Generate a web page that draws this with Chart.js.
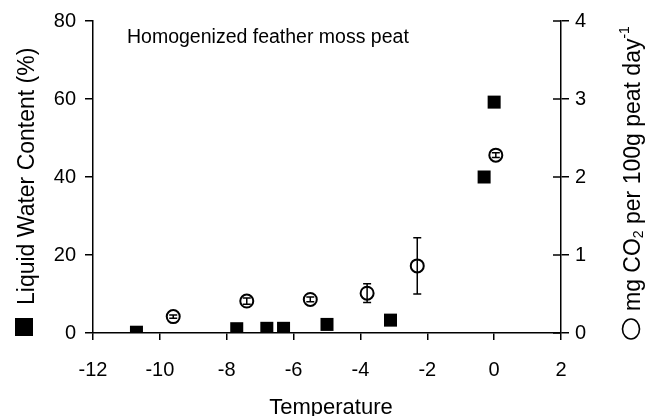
<!DOCTYPE html>
<html>
<head>
<meta charset="utf-8">
<script src="https://cdn.jsdelivr.net/npm/chart.js@4"></script>
<style>
  html, body { margin: 0; padding: 0; background: #fff; }
  canvas { display: block; }
</style>
</head>
<body>
<canvas id="chart" width="651" height="416"></canvas>
<script>
// Liquid water content (squares, left axis)
const wcTemp = [-10.7, -7.7, -6.8, -6.3, -5.0, -3.1, -0.3, 0.0];
const wcValue = [0.2, 1.1, 1.2, 1.2, 2.2, 3.3, 40.0, 59.2];

// CO2 production (open circles, right axis) with error bars
const co2Temp = [-9.6, -7.4, -5.5, -3.8, -2.3, 0.05];
const co2Value = [0.21, 0.41, 0.43, 0.51, 0.86, 2.28];
const co2Err = [0.02, 0.04, 0.03, 0.12, 0.36, 0.03];

// Axis ticks
const xTicks = [-12, -10, -8, -6, -4, -2, 0, 2];
const yTicks = [0, 20, 40, 60, 80];
const y2Ticks = [0, 1, 2, 3, 4];

const FONT = "'Liberation Sans', Arial, sans-serif";

// error bars + inner half of right-axis ticks
const errorBars = {
  id: 'errorBars',
  afterDatasetsDraw(chart) {
    const { ctx, scales: { x, y2 }, chartArea } = chart;
    ctx.save();
    ctx.strokeStyle = '#000';
    ctx.lineWidth = 1.5;
    co2Temp.forEach((t, i) => {
      const px = x.getPixelForValue(t);
      const top = y2.getPixelForValue(co2Value[i] + co2Err[i]);
      const bot = y2.getPixelForValue(co2Value[i] - co2Err[i]);
      ctx.beginPath();
      ctx.moveTo(px, top); ctx.lineTo(px, bot);
      ctx.moveTo(px - 4, top); ctx.lineTo(px + 4, top);
      ctx.moveTo(px - 4, bot); ctx.lineTo(px + 4, bot);
      ctx.stroke();
    });
    y2Ticks.forEach(v => {
      const py = y2.getPixelForValue(v);
      ctx.beginPath();
      ctx.moveTo(chartArea.right - 8, py); ctx.lineTo(chartArea.right, py);
      ctx.stroke();
    });
    ctx.restore();
  }
};

// axis titles and the annotation
const labels = {
  id: 'labels',
  afterDraw(chart) {
    const { ctx } = chart;
    ctx.save();
    ctx.fillStyle = '#000';
    ctx.strokeStyle = '#000';
    ctx.textBaseline = 'alphabetic';

    // annotation
    ctx.font = '19.5px ' + FONT;
    ctx.textAlign = 'left';
    ctx.fillText('Homogenized feather moss peat', 127, 43);

    // x title
    ctx.font = '22px ' + FONT;
    ctx.textAlign = 'center';
    ctx.fillText('Temperature', 331, 414);

    // left title with filled square
    ctx.fillRect(15, 318, 18, 18);
    ctx.save();
    ctx.translate(34, 305);
    ctx.rotate(-Math.PI / 2);
    ctx.font = '23px ' + FONT;
    ctx.textAlign = 'left';
    ctx.fillText('Liquid Water Content (%)', 0, 0);
    ctx.restore();

    // right title with open circle
    ctx.lineWidth = 1.6;
    ctx.beginPath();
    ctx.ellipse(631, 329, 8.5, 10, 0, 0, Math.PI * 2);
    ctx.stroke();
    ctx.save();
    ctx.translate(640, 311);
    ctx.rotate(-Math.PI / 2);
    ctx.textAlign = 'left';
    let cx = 0;
    const part = (txt, size, dy) => {
      ctx.font = size + 'px ' + FONT;
      ctx.fillText(txt, cx, dy);
      cx += ctx.measureText(txt).width;
    };
    part('mg CO', 23, 0);
    part('2', 14, 3);
    part(' per 100g peat day', 23, 0);
    part('-1', 14, -11);
    ctx.restore();

    ctx.restore();
  }
};

const axisCommon = (ticks) => ({
  type: 'linear',
  min: ticks[0],
  max: ticks[ticks.length - 1],
  afterBuildTicks: s => { s.ticks = ticks.map(v => ({ value: v })); },
  grid: { drawOnChartArea: false, color: '#000', lineWidth: 1.5, tickLength: 8 },
  border: { color: '#000', width: 1.5 },
  ticks: { color: '#000', font: { family: FONT, size: 20 } }
});

const xAxis = axisCommon(xTicks);
xAxis.grid.tickLength = 7;
xAxis.ticks.padding = 18;
xAxis.afterFit = s => { s.height = 83; };

const yAxis = axisCommon(yTicks);
yAxis.position = 'left';
yAxis.ticks.padding = 9;
yAxis.afterFit = s => { s.width = 93; };

const y2Axis = axisCommon(y2Ticks);
y2Axis.position = 'right';
y2Axis.ticks.padding = 6;
y2Axis.afterFit = s => { s.width = 90; };

new Chart(document.getElementById('chart'), {
  type: 'scatter',
  data: {
    datasets: [
      {
        label: 'Liquid Water Content',
        data: wcTemp.map((t, i) => ({ x: t, y: wcValue[i] })),
        yAxisID: 'y',
        pointStyle: 'rect',
        pointRadius: 9.2,
        backgroundColor: '#000',
        borderColor: '#000',
        borderWidth: 0
      },
      {
        label: 'CO2',
        data: co2Temp.map((t, i) => ({ x: t, y: co2Value[i] })),
        yAxisID: 'y2',
        pointStyle: 'circle',
        pointRadius: 6.5,
        backgroundColor: 'rgba(0,0,0,0)',
        borderColor: '#000',
        borderWidth: 2
      }
    ]
  },
  options: {
    responsive: false,
    animation: false,
    layout: { padding: { top: 17, left: 0, right: 0, bottom: 0 } },
    plugins: { legend: { display: false }, tooltip: { enabled: false } },
    scales: { x: xAxis, y: yAxis, y2: y2Axis }
  },
  plugins: [errorBars, labels]
});
</script>
</body>
</html>
